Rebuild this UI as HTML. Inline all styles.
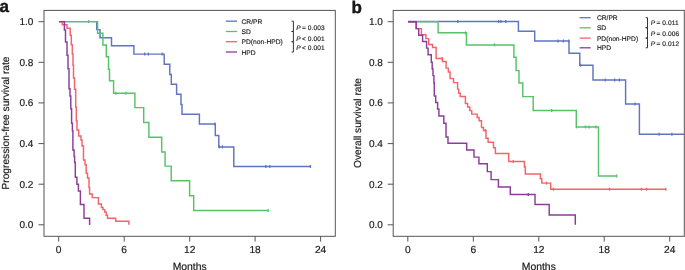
<!DOCTYPE html>
<html><head><meta charset="utf-8"><style>
html,body{margin:0;padding:0;background:#fff;}
body{width:685px;height:270px;overflow:hidden;}
svg{display:block;will-change:transform;}
text{font-family:"Liberation Sans",sans-serif;fill:#1a1a1a;text-rendering:geometricPrecision;}
.ax text{stroke:#1a1a1a;stroke-width:0.18px;}
</style></head><body>
<svg width="685" height="270" viewBox="0 0 685 270">
<rect width="685" height="270" fill="#fff"/>
<g class="ax">
<rect x="44" y="10.4" width="291.3" height="225.9" fill="none" stroke="#555555" stroke-width="1"/>
<path d="M38.5,224.8 H44" stroke="#555555" stroke-width="1"/>
<text x="33.3" y="228.2" text-anchor="end" font-size="10">0.0</text>
<path d="M38.5,184.2 H44" stroke="#555555" stroke-width="1"/>
<text x="33.3" y="187.6" text-anchor="end" font-size="10">0.2</text>
<path d="M38.5,143.6 H44" stroke="#555555" stroke-width="1"/>
<text x="33.3" y="147.0" text-anchor="end" font-size="10">0.4</text>
<path d="M38.5,102.9 H44" stroke="#555555" stroke-width="1"/>
<text x="33.3" y="106.3" text-anchor="end" font-size="10">0.6</text>
<path d="M38.5,62.3 H44" stroke="#555555" stroke-width="1"/>
<text x="33.3" y="65.7" text-anchor="end" font-size="10">0.8</text>
<path d="M38.5,21.7 H44" stroke="#555555" stroke-width="1"/>
<text x="33.3" y="25.1" text-anchor="end" font-size="10">1.0</text>
<path d="M58.7,236.3 V241.6" stroke="#555555" stroke-width="1"/>
<text x="58.7" y="253.2" text-anchor="middle" font-size="10.2">0</text>
<path d="M124.2,236.3 V241.6" stroke="#555555" stroke-width="1"/>
<text x="124.2" y="253.2" text-anchor="middle" font-size="10.2">6</text>
<path d="M189.7,236.3 V241.6" stroke="#555555" stroke-width="1"/>
<text x="189.7" y="253.2" text-anchor="middle" font-size="10.2">12</text>
<path d="M255.1,236.3 V241.6" stroke="#555555" stroke-width="1"/>
<text x="255.1" y="253.2" text-anchor="middle" font-size="10.2">18</text>
<path d="M320.6,236.3 V241.6" stroke="#555555" stroke-width="1"/>
<text x="320.6" y="253.2" text-anchor="middle" font-size="10.2">24</text>
<text x="189.7" y="269.6" text-anchor="middle" font-size="10.4">Months</text>
<text transform="translate(8.8,123) rotate(-90)" text-anchor="middle" font-size="10.2">Progression-free survival rate</text>
</g>
<g class="ax">
<rect x="393.2" y="10.4" width="291.09999999999997" height="225.9" fill="none" stroke="#555555" stroke-width="1"/>
<path d="M387.7,224.8 H393.2" stroke="#555555" stroke-width="1"/>
<text x="382.9" y="228.2" text-anchor="end" font-size="10">0.0</text>
<path d="M387.7,184.2 H393.2" stroke="#555555" stroke-width="1"/>
<text x="382.9" y="187.6" text-anchor="end" font-size="10">0.2</text>
<path d="M387.7,143.6 H393.2" stroke="#555555" stroke-width="1"/>
<text x="382.9" y="147.0" text-anchor="end" font-size="10">0.4</text>
<path d="M387.7,102.9 H393.2" stroke="#555555" stroke-width="1"/>
<text x="382.9" y="106.3" text-anchor="end" font-size="10">0.6</text>
<path d="M387.7,62.3 H393.2" stroke="#555555" stroke-width="1"/>
<text x="382.9" y="65.7" text-anchor="end" font-size="10">0.8</text>
<path d="M387.7,21.7 H393.2" stroke="#555555" stroke-width="1"/>
<text x="382.9" y="25.1" text-anchor="end" font-size="10">1.0</text>
<path d="M407.8,236.3 V241.6" stroke="#555555" stroke-width="1"/>
<text x="407.8" y="253.2" text-anchor="middle" font-size="10.2">0</text>
<path d="M473.3,236.3 V241.6" stroke="#555555" stroke-width="1"/>
<text x="473.3" y="253.2" text-anchor="middle" font-size="10.2">6</text>
<path d="M538.8,236.3 V241.6" stroke="#555555" stroke-width="1"/>
<text x="538.8" y="253.2" text-anchor="middle" font-size="10.2">12</text>
<path d="M604.2,236.3 V241.6" stroke="#555555" stroke-width="1"/>
<text x="604.2" y="253.2" text-anchor="middle" font-size="10.2">18</text>
<path d="M669.7,236.3 V241.6" stroke="#555555" stroke-width="1"/>
<text x="669.7" y="253.2" text-anchor="middle" font-size="10.2">24</text>
<text x="538.8" y="269.6" text-anchor="middle" font-size="10.4">Months</text>
<text transform="translate(360.8,123) rotate(-90)" text-anchor="middle" font-size="10.2">Overall survival rate</text>
</g>
<g fill="none" stroke-width="1.45" stroke-linejoin="miter" stroke-linecap="butt">
<path d="M59,21.6 H96.7 V29.6 H100 V37.7 H111.5 V45.8 H133.9 V54.1 H164.2 V64.2 H169.8 V74.4 H171.3 V84.2 H176.6 V94.3 H181 V104.4 H182 V114.2 H199.4 V124 H215.3 V135.4 H218.8 V146.9 H233.8 V166.5 H310.4" stroke="#6074c2"/>
<path d="M144.7,52.6 V55.6" stroke="#6074c2" stroke-width="1.3"/>
<path d="M148.4,52.6 V55.6" stroke="#6074c2" stroke-width="1.3"/>
<path d="M162.2,52.6 V55.6" stroke="#6074c2" stroke-width="1.3"/>
<path d="M215,122.5 V125.5" stroke="#6074c2" stroke-width="1.3"/>
<path d="M219.4,145.4 V148.4" stroke="#6074c2" stroke-width="1.3"/>
<path d="M222.4,145.4 V148.4" stroke="#6074c2" stroke-width="1.3"/>
<path d="M265.9,165.0 V168.0" stroke="#6074c2" stroke-width="1.3"/>
<path d="M269.9,165.0 V168.0" stroke="#6074c2" stroke-width="1.3"/>
<path d="M310.4,165.0 V168.0" stroke="#6074c2" stroke-width="1.3"/>
<path d="M59,21.6 H97.6 V33.2 H102.9 V45 H106.3 V56.7 H108.5 V69.2 H109.5 V80.8 H113.6 V93.2 H134.9 V107.6 H143.7 V122.4 H148.9 V137.2 H161.7 V152 H165.1 V166.1 H171.2 V180.8 H189.6 V195.7 H193.7 V210.4 H268.2" stroke="#56c368"/>
<path d="M88.6,20.1 V23.1" stroke="#56c368" stroke-width="1.3"/>
<path d="M115.8,91.7 V94.7" stroke="#56c368" stroke-width="1.3"/>
<path d="M126,91.7 V94.7" stroke="#56c368" stroke-width="1.3"/>
<path d="M268.2,208.9 V211.9" stroke="#56c368" stroke-width="1.3"/>
<path d="M59,21.6 H62.3 V24.8 H67 V28.3 H70.2 V35.3 H71.3 V44.7 H72.3 V54 H73 V65.3 H73.5 V78 H74.5 V89.3 H75.7 V107.3 H76.3 V120.7 H77 V130 H78.7 V136 H81 V140 H82 V146 H83.5 V160 H85 V164.8 H86.2 V173.3 H87.5 V178 H89 V187.4 H89.6 V193.9 H92.3 V197.6 H98.4 V204 H101.4 V207.4 H103 V209.6 H104.7 V211.9 H106.2 V215.2 H107.5 V218.2 H115.7 V221.2 H128.9 V224.7" stroke="#f4626a"/>
<path d="M59,21.6 H64.4 V30 H65.5 V42 H67 V55.3 H68 V68.7 H69 V88.7 H70 V96 H70.8 V108.7 H71.6 V123.3 H72.4 V130.7 H72.9 V150 H74.1 V156.2 H74.6 V162.4 H75.3 V177.2 H76.9 V184.2 H78.4 V191 H80.4 V204.4 H84 V218.3 H89.6 V224.9" stroke="#8a3e9a"/>
<path d="M408,21.5 H518.4 V31.3 H534.7 V41 H569 V53.3 H579.8 V65.2 H593 V80 H625.6 V104 H639.4 V134.3 H684" stroke="#6074c2"/>
<path d="M457.8,20.0 V23.0" stroke="#6074c2" stroke-width="1.3"/>
<path d="M498.6,20.0 V23.0" stroke="#6074c2" stroke-width="1.3"/>
<path d="M500.9,20.0 V23.0" stroke="#6074c2" stroke-width="1.3"/>
<path d="M505.7,20.0 V23.0" stroke="#6074c2" stroke-width="1.3"/>
<path d="M558,39.5 V42.5" stroke="#6074c2" stroke-width="1.3"/>
<path d="M563.4,39.5 V42.5" stroke="#6074c2" stroke-width="1.3"/>
<path d="M568.8,39.5 V42.5" stroke="#6074c2" stroke-width="1.3"/>
<path d="M580.6,63.7 V66.7" stroke="#6074c2" stroke-width="1.3"/>
<path d="M605.3,78.5 V81.5" stroke="#6074c2" stroke-width="1.3"/>
<path d="M614.7,78.5 V81.5" stroke="#6074c2" stroke-width="1.3"/>
<path d="M619.4,78.5 V81.5" stroke="#6074c2" stroke-width="1.3"/>
<path d="M635,102.5 V105.5" stroke="#6074c2" stroke-width="1.3"/>
<path d="M659.1,132.8 V135.8" stroke="#6074c2" stroke-width="1.3"/>
<path d="M671.9,132.8 V135.8" stroke="#6074c2" stroke-width="1.3"/>
<path d="M408,21.7 H438.1 V32.8 H466.4 V44.9 H513.9 V57.2 H516.1 V70.6 H519 V83 H522.8 V96.6 H533.2 V110.4 H576.3 V126.9 H598.5 V176 H616.7" stroke="#56c368"/>
<path d="M465.5,31.3 V34.3" stroke="#56c368" stroke-width="1.3"/>
<path d="M494.5,43.4 V46.4" stroke="#56c368" stroke-width="1.3"/>
<path d="M551.7,108.9 V111.9" stroke="#56c368" stroke-width="1.3"/>
<path d="M576.5,125.4 V128.4" stroke="#56c368" stroke-width="1.3"/>
<path d="M585.5,125.4 V128.4" stroke="#56c368" stroke-width="1.3"/>
<path d="M589.1,125.4 V128.4" stroke="#56c368" stroke-width="1.3"/>
<path d="M595.9,125.4 V128.4" stroke="#56c368" stroke-width="1.3"/>
<path d="M616.7,174.5 V177.5" stroke="#56c368" stroke-width="1.3"/>
<path d="M408,21.7 H416.2 V28.6 H421.4 V34.7 H425.9 V38.6 H428.7 V44.5 H432.5 V47.4 H436.1 V58.5 H442.4 V61.5 H446.1 V68.1 H448.3 V71.9 H450.1 V78.6 H453.5 V82.6 H457.6 V89.1 H458.7 V93.3 H460.2 V96.5 H465.4 V103.5 H467.6 V106.9 H469.8 V110.6 H471.7 V114.1 H477.2 V117.4 H479.1 V120.8 H481.5 V127.5 H483.5 V130.5 H486 V138.3 H488.1 V142.2 H493.5 V147.7 H495.4 V153.4 H508.7 V161.5 H524.4 V167 H525.3 V174 H540.4 V178.7 H541.8 V183.1 H550.7 V189.2 H666.1" stroke="#f4626a"/>
<path d="M442.2,57.0 V60.0" stroke="#f4626a" stroke-width="1.3"/>
<path d="M485.4,129.0 V132.0" stroke="#f4626a" stroke-width="1.3"/>
<path d="M513.3,160.0 V163.0" stroke="#f4626a" stroke-width="1.3"/>
<path d="M546.4,181.6 V184.6" stroke="#f4626a" stroke-width="1.3"/>
<path d="M553.5,187.7 V190.7" stroke="#f4626a" stroke-width="1.3"/>
<path d="M609.5,187.7 V190.7" stroke="#f4626a" stroke-width="1.3"/>
<path d="M641.4,187.7 V190.7" stroke="#f4626a" stroke-width="1.3"/>
<path d="M646.5,187.7 V190.7" stroke="#f4626a" stroke-width="1.3"/>
<path d="M665.8,187.7 V190.7" stroke="#f4626a" stroke-width="1.3"/>
<path d="M408,21.7 H416.2 V28.6 H418.7 V35.2 H422.6 V41.5 H426.6 V48.1 H428.1 V54.8 H431.3 V62.2 H432.2 V68.9 H433 V75.6 H433.9 V83 H434.3 V95.9 H435.7 V102.4 H437.6 V108.9 H438.9 V115.9 H443.8 V123.3 H446 V136.9 H448 V143.3 H466.7 V149.9 H474 V157.1 H478.9 V163.8 H487.3 V171.6 H491.1 V179.6 H498.4 V186.9 H510.3 V194.5 H535 V204.5 H549.2 V214.9 H575.3 V224.7" stroke="#8a3e9a"/>
<path d="M528.3,193.0 V196.0" stroke="#8a3e9a" stroke-width="1.3"/>
</g>
<path d="M225.8,21.2 H237" stroke="#6074c2" stroke-width="1.3"/>
<text x="241.5" y="23.7" font-size="6.7" fill="#222" stroke="#222" stroke-width="0.15">CR/PR</text>
<path d="M225.8,31.5 H237" stroke="#56c368" stroke-width="1.3"/>
<text x="241.5" y="34.0" font-size="6.7" fill="#222" stroke="#222" stroke-width="0.15">SD</text>
<path d="M225.8,41.7 H237" stroke="#f4626a" stroke-width="1.3"/>
<text x="241.5" y="44.2" font-size="6.7" fill="#222" stroke="#222" stroke-width="0.15">PD(non-HPD)</text>
<path d="M225.8,52.0 H237" stroke="#8a3e9a" stroke-width="1.3"/>
<text x="241.5" y="54.5" font-size="6.7" fill="#222" stroke="#222" stroke-width="0.15">HPD</text>
<path d="M291.59999999999997,21.2 H293.4 V31.5 H291.59999999999997" stroke="#2a2a2a" stroke-width="0.95" fill="none"/>
<path d="M291.59999999999997,31.5 H293.4 V41.7 H291.59999999999997" stroke="#2a2a2a" stroke-width="0.95" fill="none"/>
<path d="M291.59999999999997,41.7 H293.4 V52.0 H291.59999999999997" stroke="#2a2a2a" stroke-width="0.95" fill="none"/>
<g font-size="6.6" fill="#1a1a1a" stroke="#1a1a1a" stroke-width="0.15"><text x="296.2" y="29.9" font-style="italic">P</text><text x="303.9" y="29.9" text-anchor="middle">=</text><text x="307.7" y="29.9" letter-spacing="0.12">0.003</text></g>
<g font-size="6.6" fill="#1a1a1a" stroke="#1a1a1a" stroke-width="0.15"><text x="296.2" y="40.6" font-style="italic">P</text><text x="303.9" y="40.6" text-anchor="middle">&lt;</text><text x="307.7" y="40.6" letter-spacing="0.12">0.001</text></g>
<g font-size="6.6" fill="#1a1a1a" stroke="#1a1a1a" stroke-width="0.15"><text x="296.2" y="50.3" font-style="italic">P</text><text x="303.9" y="50.3" text-anchor="middle">&lt;</text><text x="307.7" y="50.3" letter-spacing="0.12">0.001</text></g>
<path d="M579.6,17.7 H590.7" stroke="#6074c2" stroke-width="1.3"/>
<text x="596.9" y="20.2" font-size="6.7" fill="#222" stroke="#222" stroke-width="0.15">CR/PR</text>
<path d="M579.6,27.8 H590.7" stroke="#56c368" stroke-width="1.3"/>
<text x="596.9" y="30.3" font-size="6.7" fill="#222" stroke="#222" stroke-width="0.15">SD</text>
<path d="M579.6,38.1 H590.7" stroke="#f4626a" stroke-width="1.3"/>
<text x="596.9" y="40.6" font-size="6.7" fill="#222" stroke="#222" stroke-width="0.15">PD(non-HPD)</text>
<path d="M579.6,47.8 H590.7" stroke="#8a3e9a" stroke-width="1.3"/>
<text x="596.9" y="50.3" font-size="6.7" fill="#222" stroke="#222" stroke-width="0.15">HPD</text>
<path d="M645.7,17.7 H647.5 V27.8 H645.7" stroke="#2a2a2a" stroke-width="0.95" fill="none"/>
<path d="M645.7,27.8 H647.5 V38.1 H645.7" stroke="#2a2a2a" stroke-width="0.95" fill="none"/>
<path d="M645.7,38.1 H647.5 V47.8 H645.7" stroke="#2a2a2a" stroke-width="0.95" fill="none"/>
<g font-size="6.6" fill="#1a1a1a" stroke="#1a1a1a" stroke-width="0.15"><text x="650.7" y="24.9" font-style="italic">P</text><text x="658.4" y="24.9" text-anchor="middle">=</text><text x="662.2" y="24.9" letter-spacing="0.12">0.011</text></g>
<g font-size="6.6" fill="#1a1a1a" stroke="#1a1a1a" stroke-width="0.15"><text x="650.7" y="36.3" font-style="italic">P</text><text x="658.4" y="36.3" text-anchor="middle">=</text><text x="662.2" y="36.3" letter-spacing="0.12">0.006</text></g>
<g font-size="6.6" fill="#1a1a1a" stroke="#1a1a1a" stroke-width="0.15"><text x="650.7" y="46.2" font-style="italic">P</text><text x="658.4" y="46.2" text-anchor="middle">=</text><text x="662.2" y="46.2" letter-spacing="0.12">0.012</text></g>
<text x="-0.4" y="12.4" font-size="17" style="font-weight:700" stroke="#000" stroke-width="0.35">a</text>
<text x="351.4" y="12.7" font-size="17" style="font-weight:700" stroke="#000" stroke-width="0.35">b</text>
</svg>
</body></html>
